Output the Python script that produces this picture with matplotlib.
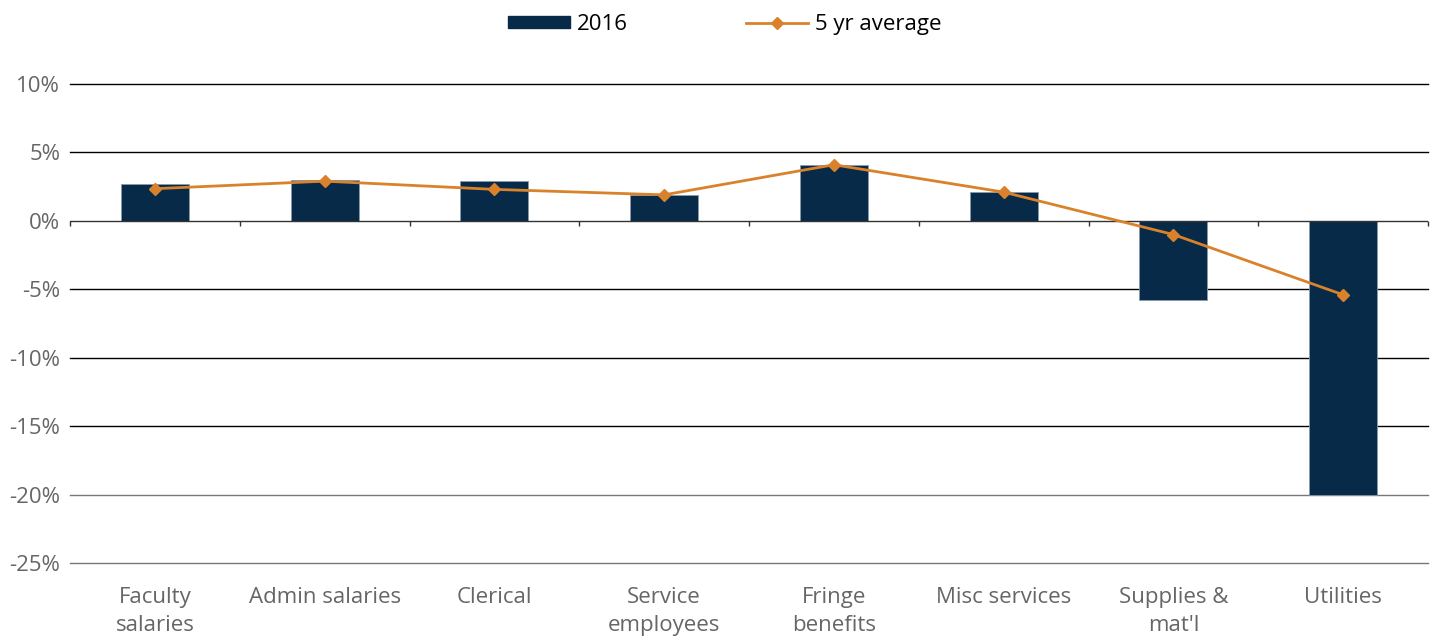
import matplotlib.pyplot as plt
import numpy as np
from matplotlib.patches import Patch
from matplotlib.lines import Line2D

# Data (percent change)
categories = ['Faculty\nsalaries', 'Admin salaries', 'Clerical', 'Service\nemployees',
              'Fringe\nbenefits', 'Misc services', "Supplies &\nmat'l", 'Utilities']
values_2016 = [2.7, 3.0, 2.9, 1.9, 4.1, 2.1, -5.8, -20.0]
avg_5yr = [2.35, 2.9, 2.3, 1.9, 4.1, 2.1, -1.0, -5.4]
y_ticks = [10, 5, 0, -5, -10, -15, -20, -25]

bar_color = '#062a48'
line_color = '#d9822b'
label_color = '#666666'

plt.rcParams['font.family'] = ['Open Sans', 'DejaVu Sans']

fig = plt.figure(figsize=(14.35, 6.37), dpi=100)
ax = fig.add_axes([70 / 1435, 1 - 563 / 637, (1428 - 70) / 1435, (563 - 84) / 637])

x = np.arange(len(categories))

# gridlines (lower two are grey in the original)
for t in y_ticks:
    if t == 0:
        continue
    ax.axhline(t, color='#777777' if t <= -20 else 'black', lw=1.0, zorder=1, clip_on=False)

ax.bar(x, values_2016, width=0.4, color=bar_color, edgecolor='#8a9aa8', linewidth=0.6, zorder=2)
ax.plot(x, avg_5yr, color=line_color, lw=2, marker='D', markersize=6.5, zorder=4)

# zero axis with tick marks between categories
ax.axhline(0, color='#333333', lw=1.0, zorder=3)
bounds = np.arange(len(categories) + 1) - 0.5
ax.vlines(bounds, -0.4, 0, color='#333333', lw=1.0, zorder=3, clip_on=False)

ax.set_xlim(-0.5, len(categories) - 0.5)
ax.set_ylim(-25, 10)
ax.set_yticks(y_ticks)
ax.set_yticklabels([f'{t}%' for t in y_ticks])
ax.set_xticks(x)
ax.set_xticklabels(categories, linespacing=1.45)
ax.tick_params(axis='y', length=0, pad=7, labelsize=16, labelcolor=label_color)
ax.tick_params(axis='x', length=0, pad=17, labelsize=16, labelcolor=label_color)
for s in ax.spines.values():
    s.set_visible(False)

handles = [Patch(facecolor=bar_color, edgecolor=bar_color),
           Line2D([], [], color=line_color, lw=2, marker='D', markersize=6)]
fig.legend(handles, ['2016', '5 yr average'], loc='center', bbox_to_anchor=(0.505, 0.962),
           ncol=2, frameon=False, fontsize=16, handlelength=2.8, handleheight=0.45,
           handletextpad=0.3, columnspacing=5.3)

fig.savefig('out.png', dpi=100)
